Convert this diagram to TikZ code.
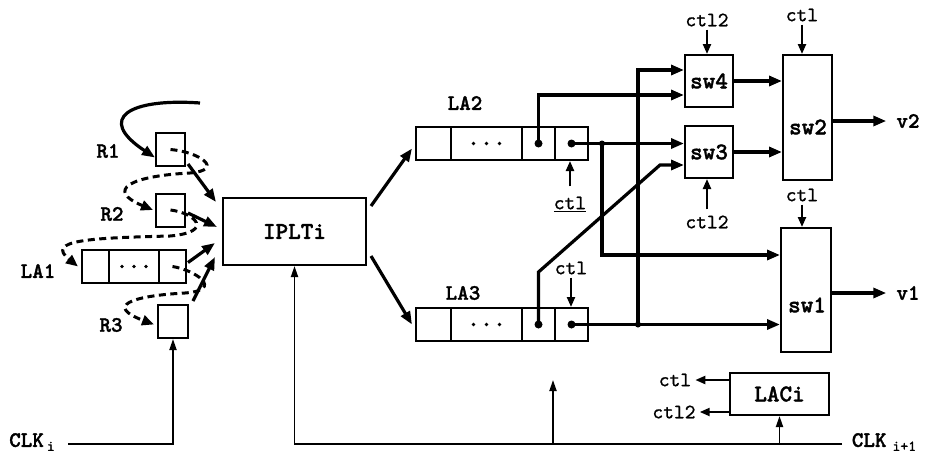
\documentclass[tikz,border=0pt]{standalone}
\usepackage{fontspec}
\newfontfamily\cbold{lmmonolt10-bold.otf}[FakeBold=1.5]
\newfontfamily\creg{lmmono10-regular.otf}[FakeBold=0.8]
\usetikzlibrary{arrows.meta}
\begin{document}
\begin{tikzpicture}[x=1pt,y=-1pt,
  box/.style={draw,line width=2pt,inner sep=0pt},
  cell/.style={draw,line width=2pt,inner sep=0pt,minimum height=33pt},
  tarr/.style={line width=3.2pt,-{Triangle[length=13pt,width=10pt]}},
  marr/.style={line width=2.2pt,-{Triangle[length=10pt,width=8pt]}},
  clkarr/.style={line width=1.8pt,-{Triangle[length=11pt,width=7pt]}},
  dsh/.style={line width=3pt,dash pattern=on 7pt off 4.5pt},
  dsharr/.style={dsh,-{Triangle[length=12pt,width=10pt]}},
  lbl/.style={font=\creg\fontsize{20.5}{20.5}\selectfont,inner sep=0pt},
  blbl/.style={font=\cbold\fontsize{22}{22}\selectfont,inner sep=0pt},
  swl/.style={font=\cbold\fontsize{24}{24}\selectfont},
  ]
\useasboundingbox (0,0) rectangle (926,458);

% left registers
\node[box,minimum width=29pt,minimum height=33pt] (r1) at (170.5,149.5) {};
\node[box,minimum width=29pt,minimum height=33pt] (r2) at (170.5,210) {};
\node[box,minimum width=30pt,minimum height=33pt] (r3) at (173,321.5) {};
\node[cell,minimum width=27pt] (la1a) at (95.5,266.5) {};
\node[cell,minimum width=50pt] (la1b) at (134,266.5) {};
\node[cell,minimum width=27pt] (la1c) at (172.5,266.5) {};
\foreach \d in {-12,0,12} \fill ([xshift=\d pt]la1b.center) circle (1.8pt);

\node[blbl] (r1l) at (108,151) {R1};
\node[blbl] (r2l) at (112,214) {R2};
\node[blbl] (r3l) at (111,325) {R3};
\node[blbl] (la1l) at (38,271) {LA1};

% IPLTi
\node[box,swl,minimum width=143pt,minimum height=67pt] (iplt) at (294.5,231.5) {IPLTi};

% LA2 / LA3
\node[cell,minimum width=35pt] (la2a) at (433.5,143.5) {};
\node[cell,minimum width=71pt] (la2b) at (486.5,143.5) {};
\node[cell,minimum width=33pt] (la2c) at (538.5,143.5) {};
\node[cell,minimum width=33pt] (la2d) at (571.5,143.5) {};
\node[cell,minimum width=35pt] (la3a) at (433.5,324.5) {};
\node[cell,minimum width=71pt] (la3b) at (486.5,324.5) {};
\node[cell,minimum width=33pt] (la3c) at (538.5,324.5) {};
\node[cell,minimum width=33pt] (la3d) at (571.5,324.5) {};
\foreach \d in {-13,0,13} {
  \fill ([xshift=\d pt]la2b.center) circle (1.8pt);
  \fill ([xshift=\d pt]la3b.center) circle (1.8pt);
}
\foreach \c in {la2c,la2d,la3c,la3d} \fill (\c.center) circle (4pt);
\node[blbl] (la2l) at (465,103) {LA2};
\node[blbl] (la3l) at (463,293) {LA3};

% switches
\node[box,swl,minimum width=48pt,minimum height=52pt,inner sep=0pt] (sw4) at (709,81) {sw4};
\node[box,swl,minimum width=48pt,minimum height=52pt,inner sep=0pt] (sw3) at (709,152) {sw3};
\node[box,minimum width=49pt,minimum height=125pt] (sw2) at (807.5,117.5) {};
\node[swl,inner sep=0pt] (sw2l) at (808,127) {sw2};
\node[box,minimum width=50pt,minimum height=124pt] (sw1) at (806,290) {};
\node[swl,inner sep=0pt] (sw1l) at (807,305) {sw1};
\node[box,swl,minimum width=99pt,minimum height=42pt,inner sep=0pt] (laci) at (779.5,394) {LACi};

% outputs
\node[blbl] (v2) at (908,121) {v2};
\node[blbl] (v1) at (908,293) {v1};
\draw[tarr] (sw2.east |- v2) -- ([xshift=-10pt]v2.west);
\draw[tarr] (sw1.east |- v1) -- ([xshift=-10pt]v1.west);

% control labels
\node[lbl] (c42) at (707,20) {ctl2};
\node[lbl] (c2) at (802,15) {ctl};
\node[lbl] (c32) at (707,222) {ctl2};
\node[lbl] (c1) at (802,195) {ctl};
\node[lbl] (cla2) at (570,204) {\underline{ctl}};
\node[lbl] (cla3) at (571,268) {ctl};
\draw[marr] ([yshift=-3pt]c42.south) -- (sw4.north -| c42);
\draw[marr] ([yshift=-3pt]c2.south) -- (sw2.north -| c2);
\draw[marr] ([yshift=6pt]c32.north) -- (sw3.south -| c32);
\draw[marr] ([yshift=-3pt]c1.south) -- (sw1.north -| c1);
\draw[marr] ([yshift=10pt]cla2.north) -- (la2d.south -| cla2);
\draw[marr] ([yshift=-3pt]cla3.south) -- (la3d.north -| cla3);

% LACi outputs
\node[lbl] (lc1) at (675,380) {ctl};
\node[lbl] (lc2) at (674,412) {ctl2};
\draw[marr] (laci.west |- lc1) -- ([xshift=4pt]lc1.east);
\draw[marr] (laci.west |- lc2) -- ([xshift=4pt]lc2.east);

% data paths
\coordinate (j1) at (602,143.5);
\coordinate (j2) at (638,324.5);
\draw[tarr] (la2c.center) |- (sw4.west |- 0,95);
\draw[tarr] (la2d.center) -- (sw3.west |- la2d.center);
\draw[tarr] (j1) |- (sw1.west |- 0,255);
\draw[tarr] (la3d.center) -- (sw1.west |- la3d.center);
\draw[tarr] (j2) |- (sw4.west |- 0,70);
\draw[tarr,line join=miter] (la3c.center) -- (538.5,272) -- (660,165) -- (sw3.west |- 0,165);
\fill (j1) circle (3pt);
\fill (j2) circle (3pt);
\draw[tarr] (sw4.east) -- (sw2.west |- sw4.east);
\draw[tarr] (sw3.east) -- (sw2.west |- sw3.east);

% IPLTi outputs
\draw[tarr] ([xshift=4pt,yshift=-9pt]iplt.north east) -- ([xshift=-3pt,yshift=-5pt]la2a.west);
\draw[tarr] ([xshift=4pt,yshift=10pt]iplt.south east) -- ([xshift=-3pt]la3a.west);

% inputs into IPLTi
\coordinate (i1) at (216,202);
\coordinate (i2) at (217,227);
\coordinate (i3) at (215,243);
\coordinate (i4) at (215,257);
\draw[tarr] (r1.south east) ++(2,-3) -- (i1);
\draw[tarr] (r2.east) ++(2,3) -- (i2);
\draw[tarr] (la1c.east) ++(1,-4) -- (i3);
\draw[tarr] (r3.north east) ++(4,-3) -- (i4);

% R1 feedback arc
\coordinate (fb) at (200,103);
\draw[tarr] (fb) .. controls (130,98) and (95,118) .. ([yshift=-8pt]r1.west);

% dashed shifting paths
\draw[dsharr] (r1.center) .. controls (200,152) and (225,170) .. (190,173)
  .. controls (130,176) and (105,190) .. ([xshift=-2pt]r2.west);
\draw[dsharr] (r2.center) .. controls (195,213) and (215,232) .. (170,236)
  .. controls (90,238) and (45,240) .. ([xshift=-3pt]la1a.west);
\draw[dsharr] (la1c.center) .. controls (195,270) and (225,290) .. (185,293)
  .. controls (130,296) and (105,306) .. ([xshift=-3pt,yshift=-3pt]r3.west);

% clocks
\node[blbl] (clki) at (32,442) {CLK\hspace{3pt}\raisebox{-4pt}{\creg\fontsize{15}{15}\selectfont i}};
\node[blbl] (clkj) at (884,442) {CLK\hspace{6pt}\raisebox{-4pt}{\creg\fontsize{15}{15}\selectfont i+1}};
\coordinate (ck0) at (68,444);
\coordinate (ck1) at (842,444);
\coordinate (ckup) at (553,380);
\draw[clkarr] (ck0) -| (r3.south);
\draw[clkarr] (ck1) -| (iplt.south);
\draw[clkarr] (ck1 -| ckup) -- (ckup);
\draw[clkarr] (ck1 -| laci.south) -- (laci.south);
\end{tikzpicture}
\end{document}
